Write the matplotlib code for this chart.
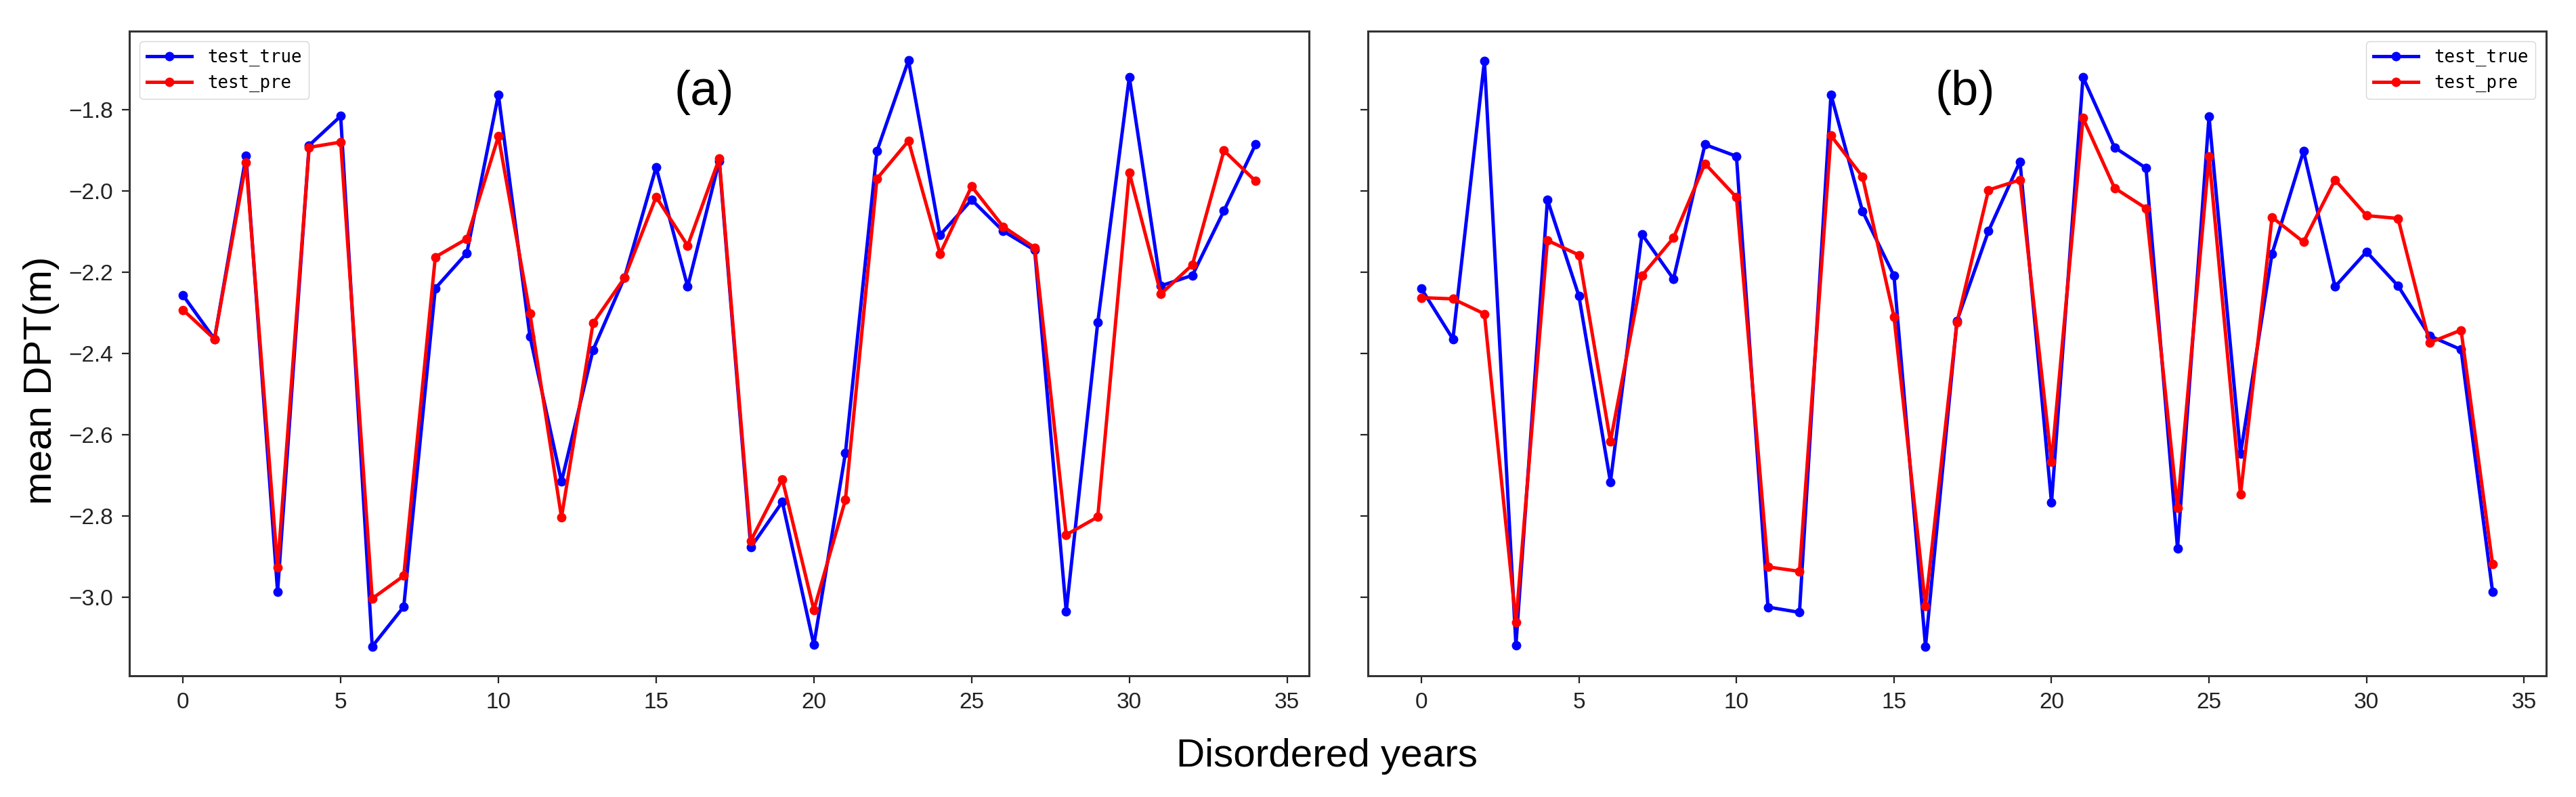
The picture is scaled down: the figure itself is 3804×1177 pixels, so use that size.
import matplotlib
matplotlib.use("Agg")
import matplotlib.pyplot as plt

plt.rcParams['font.family'] = ['Liberation Sans', 'DejaVu Sans']

# x positions (index of the disordered year)
years = list(range(35))

# panel (a)
a_true = [-2.257, -2.365, -1.914, -2.987, -1.888, -1.816, -3.122, -3.024, -2.240, -2.153,
          -1.763, -2.358, -2.716, -2.392, -2.213, -1.942, -2.236, -1.927, -2.878, -2.766,
          -3.118, -2.646, -1.902, -1.679, -2.109, -2.022, -2.099, -2.146, -3.036, -2.324,
          -1.720, -2.234, -2.208, -2.049, -1.886]
a_pre = [-2.293, -2.365, -1.931, -2.928, -1.893, -1.880, -3.004, -2.948, -2.163, -2.118,
         -1.866, -2.302, -2.804, -2.326, -2.214, -2.015, -2.135, -1.921, -2.862, -2.710,
         -3.032, -2.761, -1.970, -1.877, -2.155, -1.989, -2.088, -2.140, -2.847, -2.803,
         -1.955, -2.254, -2.182, -1.901, -1.976]

# panel (b)
b_true = [-2.241, -2.365, -1.680, -3.119, -2.022, -2.259, -2.717, -2.107, -2.217, -1.886,
          -1.915, -3.025, -3.038, -1.763, -2.050, -2.209, -3.122, -2.320, -2.099, -1.928,
          -2.768, -1.720, -1.893, -1.944, -2.880, -1.817, -2.648, -2.155, -1.902, -2.236,
          -2.150, -2.234, -2.357, -2.391, -2.987]
b_pre = [-2.263, -2.266, -2.303, -3.063, -2.122, -2.158, -2.617, -2.209, -2.116, -1.933,
         -2.016, -2.926, -2.937, -1.864, -1.965, -2.310, -3.022, -2.324, -1.998, -1.973,
         -2.668, -1.821, -1.993, -2.043, -2.780, -1.916, -2.748, -2.065, -2.126, -1.973,
         -2.061, -2.068, -2.374, -2.343, -2.919]

fig = plt.figure(figsize=(38.04, 11.77), dpi=100)
ax1 = fig.add_axes([0.0502, 0.1521, 0.4580, 0.8088])
ax2 = fig.add_axes([0.5310, 0.1521, 0.4574, 0.8088])
ax2.sharey(ax1)

panels = [(ax1, a_true, a_pre, '(a)', 0.487, 'upper left'),
          (ax2, b_true, b_pre, '(b)', 0.507, 'upper right')]

for ax, yt, yp, tag, tx, loc in panels:
    ax.plot(years, yt, color='blue', marker='o', ms=9, lw=3.6, label='test_true')
    ax.plot(years, yp, color='red', marker='o', ms=9, lw=3.6, label='test_pre')

    ax.text(tx, 0.905, tag, transform=ax.transAxes, fontsize=52,
            ha='center', va='center')

    leg = ax.legend(loc=loc, prop={'family': 'DejaVu Sans Mono', 'size': 18.5},
                    handlelength=2.57, handletextpad=0.93, labelspacing=0.47,
                    borderaxespad=0.6)

    ax.set_xticks([0, 5, 10, 15, 20, 25, 30, 35])
    ax.tick_params(labelsize=24, length=8, width=1.6, pad=9, colors='#222222')
    for sp in ax.spines.values():
        sp.set_linewidth(2.2)
        sp.set_color('#333333')

ax2.tick_params(labelleft=False)

fig.text(0.016, 0.523, 'mean DPT(m)', rotation=90, fontsize=42,
         ha='center', va='center')
fig.text(0.515, 0.051, 'Disordered years', fontsize=42,
         ha='center', va='center')

fig.savefig('out.png', dpi=100)
